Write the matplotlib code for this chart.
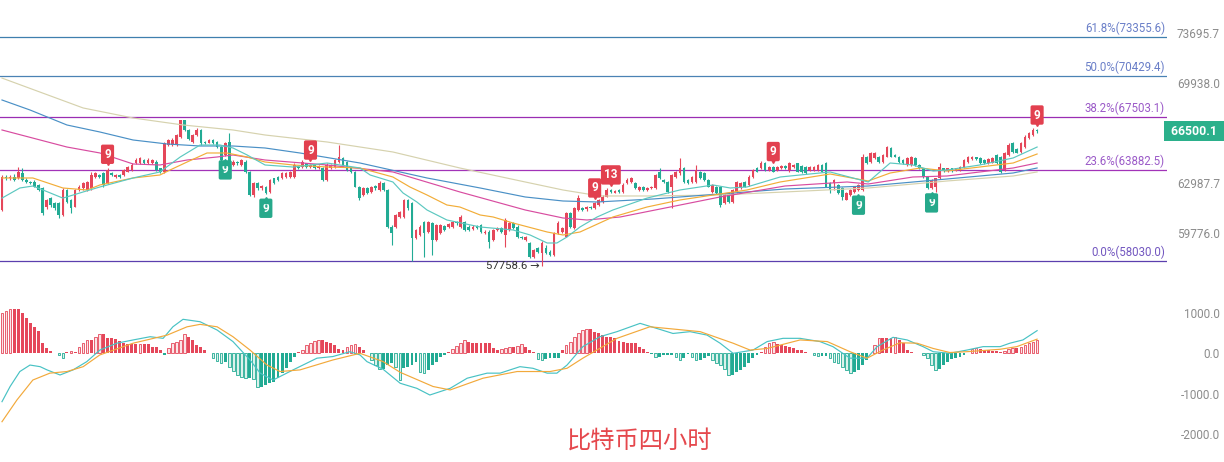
import matplotlib
matplotlib.use('Agg')
import matplotlib.pyplot as plt
import numpy as np
from matplotlib.transforms import blended_transform_factory, offset_copy
from matplotlib.ticker import NullLocator

plt.rcParams['font.family'] = ['Roboto', 'DejaVu Sans']

# ---------------- candle data (4h BTC) ----------------
opens = [
    61234, 63405, 63300, 63405, 63300, 63631, 63187, 63075, 63075, 62857,
    62640, 61446, 61988, 61665, 61665, 60914, 62529, 61878, 61446, 62529,
    62640, 62529, 62640, 63405, 63518, 63631, 62969, 63631, 63405, 63518,
    63518, 63738, 63852, 64300, 64300, 64523, 64300, 64300, 64409, 63966,
    63738, 65544, 65544, 65544, 66116, 67282, 66582, 65771, 66234, 66582,
    65771, 65700, 65888, 65771, 65428, 64862, 65771, 64187, 64409, 64187,
    64409, 63738, 62203, 62969, 62640, 62745, 62418, 63300, 63405, 63300,
    63405, 63405, 63405, 64073, 64073, 64300, 64050, 64187, 63966, 63966,
    63187, 63966, 64073, 64409, 64637, 64409, 63966, 63738, 62745, 62203,
    62640, 62418, 62791, 62529, 62969, 62529,
    60173, 60173, 60806, 60806,
    61878, 61665, 59447, 59652, 60490, 59859, 60385, 59341, 59754, 60217,
    60173, 60173, 60490, 60173, 60490, 60173, 60008, 60217, 60280, 59754,
    59859, 59341, 59966, 60071, 59652, 59966, 60385, 60173, 59546, 59341,
    59136, 58313, 58828, 58519, 58828, 58619, 58417, 59754, 59859, 59546,
    61022, 60071, 61234, 61342, 61277, 61446, 61342, 61555, 61768, 62095,
    62529, 62350, 62529, 62418, 62969, 63075, 62969, 62529, 62745, 62529,
    62640, 62640, 63738, 63187, 63075, 62745, 63405, 63631, 63966, 63187,
    63075, 63075, 63738, 63631, 63187, 62418, 62745, 62745, 61665, 62314,
    61768, 62418, 62640, 63075, 62857, 63405, 63966, 63966, 64300, 63852,
    64073, 63852, 63966, 64120, 63852, 64073, 64300, 64120, 64073, 63852,
    63852, 63852, 64187, 64300, 62969, 62969, 62857, 62640, 61878, 62203,
    62418, 62529, 62529, 64748, 64409, 64637, 64748, 64409, 64748, 65317,
    64862, 64748, 64523, 64187, 64187, 64637, 64187, 63966, 63405, 62640,
    62745, 63300, 63966, 63805, 63966, 63852, 63852, 64073, 64409, 64570,
    64705, 64637, 64523, 64300, 64340, 64862, 64748, 63852, 64862, 65661,
    65250, 65087, 65428, 66005, 66234, 66582,
]
highs = [
    63520, 63520, 63500, 63600, 64073, 63966, 63300, 63150, 63187, 62950,
    62700, 61950, 62100, 61750, 61780, 62640, 62600, 61950, 62600, 62850,
    63050, 63150, 63700, 63750, 63600, 63700, 63966, 63700, 63600, 63600,
    63950, 64150, 64300, 64637, 64750, 64600, 64637, 64600, 64500, 64000,
    65771, 65950, 66000, 66300, 67300, 67300, 66650, 66300, 66700, 66650,
    65850, 65950, 65950, 65850, 65500, 65750, 66350, 64523, 64450, 64600,
    64500, 63800, 63050, 63050, 62850, 62800, 63250, 63350, 63450, 63700,
    63700, 63800, 64300, 64150, 64523, 64350, 64250, 64250, 64200, 64050,
    64300, 64250, 64600, 65544, 64700, 64450, 64000, 63800, 62800, 62700,
    62700, 62800, 62850, 63100, 63050, 62600,
    60250, 61000, 61200, 61950,
    61950, 61750, 60050, 60250, 60550, 60550, 60450, 60350, 60350, 60300,
    60400, 60550, 60550, 60900, 60550, 60250, 60250, 60280, 60350, 59950,
    59950, 60050, 60150, 60150, 60750, 60450, 60450, 60250, 59600, 59600,
    59200, 58800, 58900, 59250, 59000, 58700, 59850, 60550, 60150, 61100,
    61100, 61400, 62203, 61400, 61500, 61500, 61750, 61950, 62200, 62640,
    62600, 62550, 62600, 62969, 63300, 63400, 63050, 62800, 62800, 62700,
    62800, 63600, 63966, 63250, 63150, 63600, 63800, 64637, 64050, 63250,
    63450, 64187, 63800, 63700, 63250, 62950, 62800, 62800, 62300, 62400,
    62600, 63150, 63050, 63150, 63500, 63950, 64050, 64450, 64400, 64150,
    64150, 64150, 64187, 64187, 64409, 64250, 64350, 64187, 64150, 64150,
    64150, 64250, 64250, 64409, 63050, 63250, 62950, 62700, 62400, 62600,
    62800, 62950, 64900, 64800, 65050, 65050, 64800, 64950, 65500, 65400,
    64950, 64800, 64570, 64700, 64800, 64700, 64250, 64005, 63450, 63250,
    63350, 64300, 64005, 64005, 64005, 64005, 64150, 64570, 64800, 64800,
    64750, 64700, 64570, 64637, 64700, 64950, 64800, 65050, 65661, 65750,
    65317, 65750, 66234, 66466, 66700, 66650,
]
lows = [
    61150, 63190, 63200, 63100, 63250, 63100, 62970, 62900, 62700, 62450,
    60900, 61300, 61450, 61250, 60702, 60850, 61700, 61022, 61400, 62450,
    62550, 62450, 62550, 63300, 63300, 62750, 62900, 63450, 63350, 63300,
    63450, 63700, 63800, 64250, 64250, 64250, 64250, 64250, 63800, 63631,
    63631, 65450, 65450, 65500, 66050, 66500, 65900, 65700, 66150, 65550,
    65600, 65650, 65600, 65350, 64450, 64800, 64000, 64100, 64200, 64100,
    63650, 62150, 62100, 62550, 62500, 62250, 62350, 62900, 63100, 63250,
    63350, 63350, 63350, 63900, 64000, 64000, 63990, 63900, 63900, 63100,
    63100, 63900, 64000, 64350, 64100, 63800, 63650, 62700, 61850, 62150,
    62250, 62350, 62550, 62450, 62450, 60100,
    59031, 60100, 60750, 60750,
    61250, 58030, 59400, 59600, 58313, 59800, 58417, 59250, 59700, 59900,
    60100, 60100, 60300, 60100, 59900, 59900, 59950, 60000, 59800, 59700,
    58828, 59300, 59900, 59800, 58926, 59900, 60000, 59450, 59400, 59300,
    58250, 58250, 58550, 57758.6, 58450, 58350, 58350, 59700, 59800, 59500,
    60100, 60000, 61200, 61150, 61200, 61280, 61300, 61500, 61700, 62050,
    62350, 62300, 62350, 62350, 62900, 63000, 62600, 62450, 62450, 62450,
    62580, 62580, 63250, 63000, 62350, 61342, 63350, 63550, 63000, 62900,
    63000, 63000, 63250, 63100, 62700, 62350, 62250, 61450, 61600, 61700,
    61700, 62350, 62600, 62700, 62800, 63350, 63700, 63900, 63800, 63800,
    63700, 63800, 63900, 63950, 63738, 64000, 63700, 63670, 63600, 63800,
    63800, 63800, 63700, 62700, 62314, 62529, 62250, 61878, 61850, 62150,
    62350, 62450, 62450, 64250, 64350, 64570, 64350, 64350, 64700, 64700,
    64700, 64350, 64250, 64120, 64120, 64120, 63900, 63350, 62600, 62600,
    62418, 63250, 63750, 63750, 63750, 63800, 63800, 64005, 64350, 64520,
    64520, 64250, 64250, 64250, 64300, 64250, 63670, 63805, 64800, 65020,
    64975, 65020, 65350, 65950, 66150, 66400,
]
closes = [
    63405, 63300, 63405, 63187, 63738, 63187, 63075, 62969, 62745, 62529,
    61022, 61878, 61555, 61342, 60914, 62529, 61768, 61342, 62529, 62745,
    62969, 63075, 63518, 63631, 63405, 62857, 63852, 63518, 63518, 63405,
    63852, 64073, 64187, 64523, 64637, 64300, 64523, 64523, 63852, 63738,
    65661, 65888, 65888, 66234, 67282, 66582, 65950, 66234, 66582, 65661,
    65661, 65888, 65661, 65428, 64523, 65661, 64073, 64409, 64300, 64523,
    63738, 62203, 62969, 62640, 62791, 62314, 63187, 62969, 63187, 63631,
    63631, 63738, 64187, 63966, 64409, 64073, 64187, 63966, 64120, 63187,
    64187, 64187, 64523, 64748, 64187, 63852, 63738, 62745, 61988, 62640,
    62314, 62745, 62640, 62969, 62529, 60173,
    59754, 60914, 61125, 61878,
    61342, 59447, 59966, 60173, 59754, 60490, 59341, 60280, 60280, 59966,
    60343, 60490, 60385, 60806, 59966, 59966, 60173, 60071, 59859, 59859,
    59236, 59966, 60071, 59859, 60596, 60385, 60071, 59546, 59447, 59546,
    58313, 58723, 58619, 59136, 58519, 58417, 59754, 60385, 60071, 61022,
    60173, 61342, 61988, 61234, 61446, 61342, 61665, 61878, 62095, 62529,
    62418, 62483, 62418, 62857, 63187, 63300, 62640, 62745, 62529, 62640,
    62745, 63518, 63300, 63075, 62418, 63518, 63738, 63966, 63075, 62969,
    63405, 63852, 63300, 63187, 62745, 62857, 62314, 61555, 62203, 61768,
    62529, 63075, 62969, 62745, 63405, 63852, 63738, 64300, 63852, 64073,
    63738, 64073, 64120, 64005, 64300, 64187, 63738, 63738, 63670, 64073,
    64073, 64187, 63738, 62745, 62529, 63187, 62314, 62095, 62314, 62529,
    62745, 62857, 64748, 64300, 64975, 64975, 64409, 64862, 65428, 64748,
    64748, 64409, 64300, 64637, 64748, 64187, 63966, 63405, 62640, 63187,
    63300, 64073, 63805, 63966, 63805, 63966, 64073, 64523, 64748, 64748,
    64570, 64300, 64300, 64570, 64637, 64300, 63738, 64975, 65544, 65087,
    65020, 65661, 66116, 66350, 66582, 66500.1,
]

# moving averages (candle index, price)
ma1_idx = [0, 4.4, 7.6, 10.1, 15, 20, 24.1, 32.3, 38.9, 43.9, 48.8, 53.7, 56.9, 60.4, 64.8, 71.7,
           80.1, 88.2, 90.7, 96.3, 98.8, 102.2, 104.7, 109.6, 117.8, 125.9, 130.1, 134.3, 136.7,
           139.2, 142.4, 146.6, 150.5, 158.9, 167, 175.2, 179.4, 183.5, 191.7, 204, 213.4, 218.8,
           224.4, 229.4, 232.8, 240.9, 249.1, 255]
ma1_val = [62000, 62660, 62790, 62529, 62000, 62400, 62725, 63320, 63720, 64725, 65544, 65544,
           65340, 64862, 64187, 64050, 64320, 63985, 63518, 63055, 62333, 61750, 61234, 60596,
           60155, 59966, 59652, 59155, 59155, 59528, 60155, 60786, 61234, 62000, 62529, 62857,
           62660, 62725, 63385, 63720, 63055, 64320, 64187, 63785, 63852, 64187, 64660, 65405]
ma2_idx = [0, 7.6, 15, 21, 24.1, 32.3, 38.9, 41.4, 45.6, 50.5, 55.4, 60.4, 64.8, 71.7, 80.1, 88.2,
           96.3, 100.5, 104.7, 109.6, 112.8, 117.8, 121, 125.9, 134.3, 138.2, 142.4, 150.5, 158.9,
           167, 175.2, 183.5, 191.7, 204, 213.4, 218.8, 226.2, 232.8, 240.9, 249.1, 255]
ma2_val = [63320, 63320, 62660, 62529, 62857, 63320, 63518, 63852, 64388, 64998, 64998, 64726,
           64388, 64187, 64053, 63985, 63385, 62725, 62203, 61555, 61425, 60914, 60787, 60406,
           59840, 59652, 59840, 60787, 61425, 61878, 62203, 62529, 63055, 63585, 63120, 63650,
           63985, 63785, 64053, 64320, 64930]
ma3_idx = [0, 16, 24.1, 32.3, 38.9, 45.6, 53, 56.9, 64.8, 80.1, 96.3, 112.8, 128.9, 138.2, 144.1,
           152.3, 164.6, 176.9, 192.9, 208.2, 213.4, 224.4, 232.8, 240.9, 249.1, 255]
ma3_val = [66582, 65405, 65000, 64254, 64187, 64523, 64726, 64862, 64523, 64187, 63720, 62400,
           61234, 60723, 60596, 60787, 61425, 62073, 62791, 63055, 62923, 63385, 63452, 63720,
           63985, 64320]
ma4_idx = [0, 6.9, 16, 24.1, 32.3, 40.7, 48.8, 56.9, 64.8, 73.4, 88.2, 104.7, 117.8, 128.9, 138.2,
           146.6, 160.4, 176.9, 192.9, 213.4, 232.8, 249.1, 255]
ma4_val = [68705, 67990, 66931, 66443, 65888, 65613, 65475, 65475, 65339, 64998, 64320, 63320,
           62660, 62073, 61813, 61749, 61943, 62268, 62594, 62791, 63253, 63652, 63985]
ma5_idx = [0, 20, 32.3, 44.6, 56.9, 64.8, 80.1, 96.3, 112.8, 128.9, 138.2, 147.3, 158.9, 176.9,
           192.9, 213.4, 232.8, 249.1, 255]
ma5_val = [70300, 68133, 67423, 66931, 66582, 66234, 65750, 65066, 63985, 63055, 62529, 62138,
           62138, 62203, 62400, 62660, 63120, 63452, 63720]

# Fibonacci retracement levels
fib_pct = [61.8, 50.0, 38.2, 23.6, 0.0]
fib_price = [73355.6, 70429.4, 67503.1, 63882.5, 58030.0]
fib_line_colors = ['#3f7fae', '#4a82b4', '#9a2db3', '#a233b8', '#5b3fae']
fib_text_colors = ['#6a7fc8', '#6a7fc8', '#9b5ac8', '#9b5ac8', '#7357c0']

price_ticks = [59776.0, 62987.7, 69938.0, 73695.7]
macd_ticks = [1000.0, 0.0, -1000.0, -2000.0]

# TD sequential markers (candle index, label)
td_red_idx = [26, 76, 146, 150, 190, 255]
td_red_lbl = ['9', '9', '9', '13', '9', '9']
td_green_idx = [55, 65, 211, 229]
td_green_lbl = ['9', '9', '9', '9']

# MACD
macd_hist = [
    1000, 1050, 1100, 1100, 1100, 1000, 870, 740, 660, 540,
    250, 120, 60, 20, -40, -120, 40, 60, 25, 150,
    250, 330, 330, 410, 475, 475, 385, 370, 345, 310,
    250, 220, 220, 220, 230, 230, 220, 165, 150, 80,
    -40, 120, 260, 290, 330, 465, 410, 330, 205, 165,
    80, 10, -120, -180, -230, -205, -330, -430, -535, -590,
    -615, -600, -640, -820, -820, -780, -740, -700, -615, -490,
    -370, -205, -80, 40, 80, 205, 260, 310, 330, 330,
    290, 260, 205, 100, 80, 150, 205, 230, 165, 80,
    10, -165, -290, -395, -380, -300, -250, -330,
    -670, -370, -350, -290, -205, -450, -490, -410, -290, -205, -80, -40,
    40, 100, 180, 250, 330, 290, 260, 250, 250, 250, 250, 120, 80, 100, 120, 150, 150, 180,
    230, 165, 80, 40,
    -150, -165, -150, -120, -120, -120,
    80, 205, 290, 410, 490, 575, 590, 590, 530, 490, 450, 410, 395, 370, 310, 290, 250, 250,
    250, 165, 100, 40,
    -20, -80, -80, -40, -40, -40, -80, -165, -120, -20, -80, -165, -165, -120, -60, -165,
    -230, -290, -395, -535, -535, -450, -410, -330, -245, -120, -40,
    40, 165, 260, 290, 230, 205, 180, 165, 120, 80,
    80, 40, 20, -40, -55, -55, -55, -120, -205, -245, -330, -410, -475, -450, -410, -290,
    -165, 20, 205, 370, 370, 370, 370, 410, 330, 250, 80, 40, 20, 20, -40, -120, -290, -410,
    -395, -290, -205, -150, -120, -80, -40, 20, 100, 120, 100, 80, 80, 65, 60, 40, 60, 100,
    120, 120, 165, 205, 250, 290, 330,
]
dif_idx = [0, 2, 4.4, 6.9, 9.4, 11.1, 14.3, 17.5, 20.9, 24.1, 28.3, 32.3, 36.5, 39.7, 42.1, 44.6,
           48.8, 53, 56.9, 61.1, 63.6, 66.8, 71.7, 77.6, 81.5, 85.7, 88.2, 89.9, 93.9, 98.1, 102.2,
           105.4, 110.4, 114.6, 119.5, 122.7, 127.6, 130.8, 134.3, 136.7, 139.2, 143.1, 147.3,
           151.5, 157.2, 162.1, 165.3, 169.5, 173.7, 176.9, 180.1, 185, 188.5, 192.4, 196.6,
           201.5, 204.7, 208.9, 213.1, 215.6, 219.5, 223, 226.9, 229.4, 233.5, 237.7, 241.7,
           245.9, 248.3, 251.5, 255]
dif_val = [-1195, -820, -450, -290, -330, -410, -535, -410, -205, 80, 250, 330, 410, 370, 655, 840,
           780, 575, 290, -165, -490, -660, -410, -120, -80, 40, -40, -205, -395, -740, -865,
           -1030, -865, -615, -490, -490, -330, -370, -490, -490, -290, 165, 410, 535, 740, 590,
           490, 535, 450, 250, 0, 80, 290, 370, 370, 290, 165, -120, -120, 165, 395, 330, 165, 40,
           0, 80, 165, 165, 250, 330, 560]
dea_idx = [0, 3.7, 7.6, 11.8, 16, 20, 24.1, 32.3, 40.7, 45.6, 48.8, 53, 56.9, 61.1, 65.3, 68.5,
           73.4, 81.5, 88.2, 93.9, 98.1, 106.2, 110.4, 118.5, 126.9, 135, 139.2, 143.1, 151.5,
           159.6, 163.8, 172, 180.1, 184.3, 188.5, 196.6, 203.3, 208.9, 213.1, 217, 221.2, 225.4,
           229.4, 233.5, 237.7, 245.9, 250, 255]
dea_val = [-1690, -1150, -660, -490, -450, -330, -40, 250, 450, 655, 715, 655, 410, 80, -290, -450,
           -410, -165, 0, -205, -470, -820, -905, -615, -450, -450, -370, -120, 370, 655, 615,
           535, 250, 80, 120, 330, 290, 40, -120, 80, 260, 250, 120, 20, 40, 100, 165, 350]

title_text = '比特币四小时'

# ---------------- drawing ----------------
RED = '#e5475a'
GREEN = '#22ab94'
W, H = 1224, 462
fig = plt.figure(figsize=(W / 100, H / 100), dpi=100)
fig.patch.set_facecolor('white')

ax = fig.add_axes([0, 1 - 290 / H, 1167 / W, 290 / H])
axm = fig.add_axes([0, 0, 1167 / W, 172 / H])

n = len(closes)
x = np.arange(n)
o = np.array(opens, float)
c = np.array(closes, float)
h = np.maximum(np.array(highs, float), np.maximum(o, c))
lo = np.minimum(np.array(lows, float), np.minimum(o, c))
up = c >= o
cols = np.where(up, RED, GREEN)

ax.set_yscale('log')
ax.set_ylim(56315, 76285)
ax.set_xlim(-0.49, 287.0)

for p, lc in zip(fib_price, fib_line_colors):
    ax.axhline(p, color=lc, lw=0.9, zorder=1)

ax.vlines(x, lo, h, colors=cols, lw=0.8, zorder=3)
body_b = np.minimum(o, c)
body_h = np.maximum(np.abs(c - o), 14)
ax.bar(x, body_h, bottom=body_b, width=0.66, color=cols, linewidth=0, zorder=3)

for idx, val, col in [(ma5_idx, ma5_val, '#d6d2ae'), (ma4_idx, ma4_val, '#4a90c6'),
                      (ma3_idx, ma3_val, '#d84ca0'), (ma2_idx, ma2_val, '#f2ad38'),
                      (ma1_idx, ma1_val, '#5cc8c0')]:
    ax.plot(idx, val, color=col, lw=0.85, zorder=4, solid_joinstyle='round')

btr = blended_transform_factory(ax.transAxes, ax.transData)
btr_up = offset_copy(btr, fig=fig, x=-2, y=2, units='dots')
for pct, p, tc in zip(fib_pct, fib_price, fib_text_colors):
    ax.text(1.0, p, f'{pct:.1f}%({p:.1f})', transform=btr_up, ha='right', va='bottom',
            fontsize=8.3, color=tc)

# TD markers
for i, lbl in zip(td_red_idx, td_red_lbl):
    ax.annotate(lbl, xy=(i, h[i]), xytext=(0, 14), textcoords='offset pixels', ha='center',
                va='center', color='white', fontsize=8.5, fontweight='bold', zorder=6,
                bbox=dict(boxstyle='round,pad=0.27,rounding_size=0.15', fc='#e2404f', ec='none'))
    ax.plot([i], [h[i]], marker='v', ms=4, color='#e2404f', zorder=6,
            transform=offset_copy(ax.transData, fig=fig, y=6, units='dots'))
for i, lbl in zip(td_green_idx, td_green_lbl):
    ax.annotate(lbl, xy=(i, lo[i]), xytext=(0, -14), textcoords='offset pixels', ha='center',
                va='center', color='white', fontsize=8.5, fontweight='bold', zorder=6,
                bbox=dict(boxstyle='round,pad=0.27,rounding_size=0.15', fc='#26a98b', ec='none'))
    ax.plot([i], [lo[i]], marker='^', ms=4, color='#26a98b', zorder=6,
            transform=offset_copy(ax.transData, fig=fig, y=-6, units='dots'))

# lowest low label
imin = int(np.argmin(lo))
ax.annotate(f'{lo[imin]:.1f} →', xy=(imin, lo[imin]), xytext=(-2, 0), textcoords='offset pixels',
            ha='right', va='center', fontsize=8.2, color='#333333')

# last price box
ax.text(1.0, c[-1], f' {c[-1]:.1f} ', transform=offset_copy(btr, fig=fig, x=1, y=0, units='dots'),
        ha='left', va='center', color='white', fontsize=8.8, fontweight='bold',
        bbox=dict(boxstyle='square,pad=0.3', fc='#2bb08b', ec='none'), zorder=7, clip_on=False)

ax.yaxis.tick_right()
ax.set_yticks(price_ticks)
ax.set_yticklabels([f'{t:.1f}' for t in price_ticks])
ax.yaxis.set_minor_locator(NullLocator())
ax.tick_params(axis='y', length=0, pad=38, labelsize=8.5, labelcolor='#8c8c8c')
for t in ax.get_yticklabels():
    t.set_horizontalalignment('right')
ax.set_xticks([])
for s in ax.spines.values():
    s.set_visible(False)

# MACD panel
hv = np.array(macd_hist, float)
hx = np.arange(len(hv))
prev = np.concatenate([[0.0], hv[:-1]])
grow = np.abs(hv) > np.abs(prev)
for xi, v, g in zip(hx, hv, grow):
    col = RED if v >= 0 else GREEN
    if g:
        light = '#fbe4e6' if v >= 0 else '#dcf2ec'
        axm.bar(xi, v, width=0.62, facecolor=light, edgecolor=col, linewidth=0.6, zorder=2)
    else:
        axm.bar(xi, v, width=0.72, color=col, linewidth=0, zorder=2)
axm.plot(dif_idx, dif_val, color='#48c2c4', lw=0.85, zorder=3)
axm.plot(dea_idx, dea_val, color='#f2a93b', lw=0.85, zorder=3)
axm.set_xlim(-0.49, 287.0)
axm.set_ylim(-2685, 1564)
axm.yaxis.tick_right()
axm.set_yticks(macd_ticks)
axm.set_yticklabels([f'{t:.1f}' for t in macd_ticks])
axm.tick_params(axis='y', length=0, pad=38, labelsize=8.5, labelcolor='#8c8c8c')
for t in axm.get_yticklabels():
    t.set_horizontalalignment('right')
axm.set_xticks([])
for s in axm.spines.values():
    s.set_visible(False)
axm.patch.set_alpha(0)

fig.text(640 / W, 1 - 441 / H, title_text, ha='center', va='center', fontsize=17.5,
         color='#e5484d', family=['Noto Sans CJK SC', 'DejaVu Sans'])

fig.savefig('out.png', dpi=100)
